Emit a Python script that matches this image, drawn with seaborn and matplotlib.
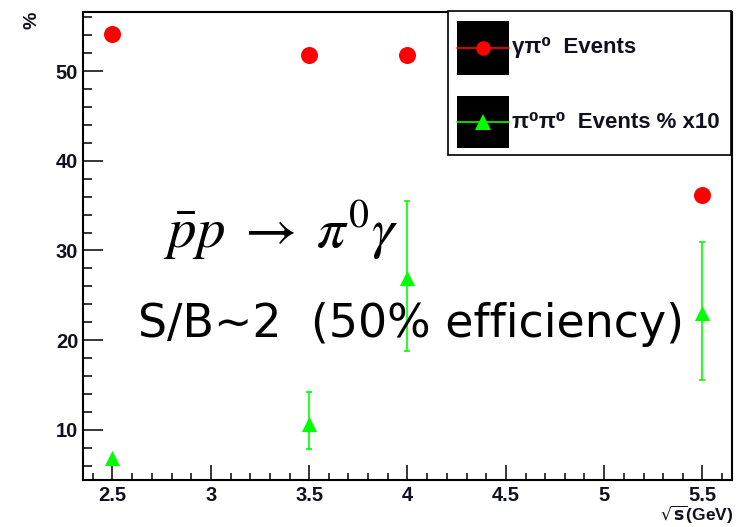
import matplotlib
matplotlib.use("Agg")
import matplotlib.pyplot as plt
from matplotlib.patches import Rectangle
from matplotlib.lines import Line2D
from matplotlib.ticker import MultipleLocator, FixedLocator
import seaborn as sns

# Centre-of-mass energy (GeV)
energy = [2.5, 3.5, 4.0, 5.5]
# gamma pi0 signal events (%)
gamma_pi0_pct = [54.1, 51.8, 51.8, 36.2]
# pi0 pi0 background events (% x10) with asymmetric errors
pi0pi0_pct_x10 = [6.9, 10.6, 26.9, 23.0]
pi0pi0_err_low = [0.0, 2.7, 8.1, 7.4]
pi0pi0_err_high = [0.0, 3.6, 8.6, 7.9]

x_ticks = [2.5, 3.0, 3.5, 4.0, 4.5, 5.0, 5.5]
x_tick_labels = ["2.5", "3", "3.5", "4", "4.5", "5", "5.5"]
y_ticks = [10, 20, 30, 40, 50]
y_tick_labels = ["10", "20", "30", "40", "50"]

legend_labels = ["γπ⁰  Events", "π⁰π⁰  Events % x10"]

RED = "#ff0000"
GREEN = "#00ff00"
W, H = 741, 527

sns.set_theme(style="white")
plt.rcParams["font.family"] = ["Liberation Sans", "DejaVu Sans"]


def fig_xy(px, py):
    """Pixel position (from top-left) to figure fraction."""
    return px / W, 1 - py / H


fig = plt.figure(figsize=(W / 100, H / 100), dpi=100)
ax = fig.add_axes([83 / W, 1 - 480 / H, (732 - 83) / W, (480 - 12) / H])

# signal points
sns.scatterplot(x=energy, y=gamma_pi0_pct, ax=ax, color=RED, marker="o",
                s=150, linewidth=0, zorder=3)
# background points with error bars
ax.errorbar(energy, pi0pi0_pct_x10, yerr=[pi0pi0_err_low, pi0pi0_err_high],
            fmt="none", ecolor=GREEN, elinewidth=1.2, capsize=2.5,
            capthick=1.2, zorder=2)
sns.scatterplot(x=energy, y=pi0pi0_pct_x10, ax=ax, color=GREEN, marker="^",
                s=120, linewidth=0, zorder=4)

ax.set_xlim(2.35, 5.65)
ax.set_ylim(4.4, 56.6)
ax.set_xlabel("")
ax.set_ylabel("")

ax.xaxis.set_major_locator(FixedLocator(x_ticks))
ax.set_xticklabels(x_tick_labels)
ax.xaxis.set_minor_locator(MultipleLocator(0.1))
ax.yaxis.set_major_locator(FixedLocator(y_ticks))
ax.set_yticklabels(y_tick_labels)
ax.yaxis.set_minor_locator(MultipleLocator(2))

ax.tick_params(axis="both", which="both", direction="in", color="black",
               width=1.1, top=False, right=False, bottom=True, left=True,
               labelsize=14.5, labelcolor="#10101e")
ax.tick_params(axis="y", which="major", length=14.5, pad=3.5)
ax.tick_params(axis="y", which="minor", length=6.5)
ax.tick_params(axis="x", which="major", length=10.5, pad=4)
ax.tick_params(axis="x", which="minor", length=5)
for lab in ax.get_xticklabels() + ax.get_yticklabels():
    lab.set_fontweight("bold")

for sp in ax.spines.values():
    sp.set_visible(True)
    sp.set_color("black")
    sp.set_linewidth(1.5)

# axis titles
fig.text(*fig_xy(32, 20), "%", rotation=90, ha="center", va="center",
         fontsize=14, fontweight="bold", color="#10101e")
fig.text(*fig_xy(733, 526), r"$\sqrt{\mathbf{s}}$(GeV)", ha="right",
         va="bottom", fontsize=12.5, fontweight="bold", color="#10101e",
         math_fontfamily="dejavusans")

# legend box
lx0, ly0 = fig_xy(448, 155)
lx1, ly1 = fig_xy(731, 11)
fig.add_artist(Rectangle((lx0, ly0), lx1 - lx0, ly1 - ly0,
                         transform=fig.transFigure, facecolor="white",
                         edgecolor="black", linewidth=1.2, zorder=5))
for (top, bot), color, marker, msize, label in zip(
        [(21, 75), (96, 148)], [RED, GREEN], ["o", "^"], [10.5, 11],
        legend_labels):
    sx0, sy0 = fig_xy(457, bot)
    sx1, sy1 = fig_xy(509, top)
    fig.add_artist(Rectangle((sx0, sy0), sx1 - sx0, sy1 - sy0,
                             transform=fig.transFigure, facecolor="black",
                             edgecolor="none", zorder=6))
    cy = (top + bot) / 2
    fig.add_artist(Line2D([sx0, sx1], [fig_xy(0, cy)[1]] * 2,
                          transform=fig.transFigure, color=color, lw=1.2,
                          zorder=7))
    fig.add_artist(Line2D([(sx0 + sx1) / 2], [fig_xy(0, cy)[1]],
                          transform=fig.transFigure, color=color,
                          marker=marker, markersize=msize, markeredgewidth=0,
                          linestyle="none", zorder=8))
    fig.text(*fig_xy(512, cy), label, ha="left", va="center", fontsize=16,
             fontweight="bold", color="#10101e", zorder=8)

# annotations
fig.text(*fig_xy(163, 248), r"$\bar{p}p\;\rightarrow\;\pi^{0}\gamma$",
         ha="left", va="baseline", fontsize=41, color="black",
         math_fontfamily="stix")
fig.text(*fig_xy(138, 337), "S/B~2  (50% efficiency)", ha="left",
         va="baseline", fontsize=33, color="black", family="DejaVu Sans")

fig.savefig("out.png", dpi=100)
